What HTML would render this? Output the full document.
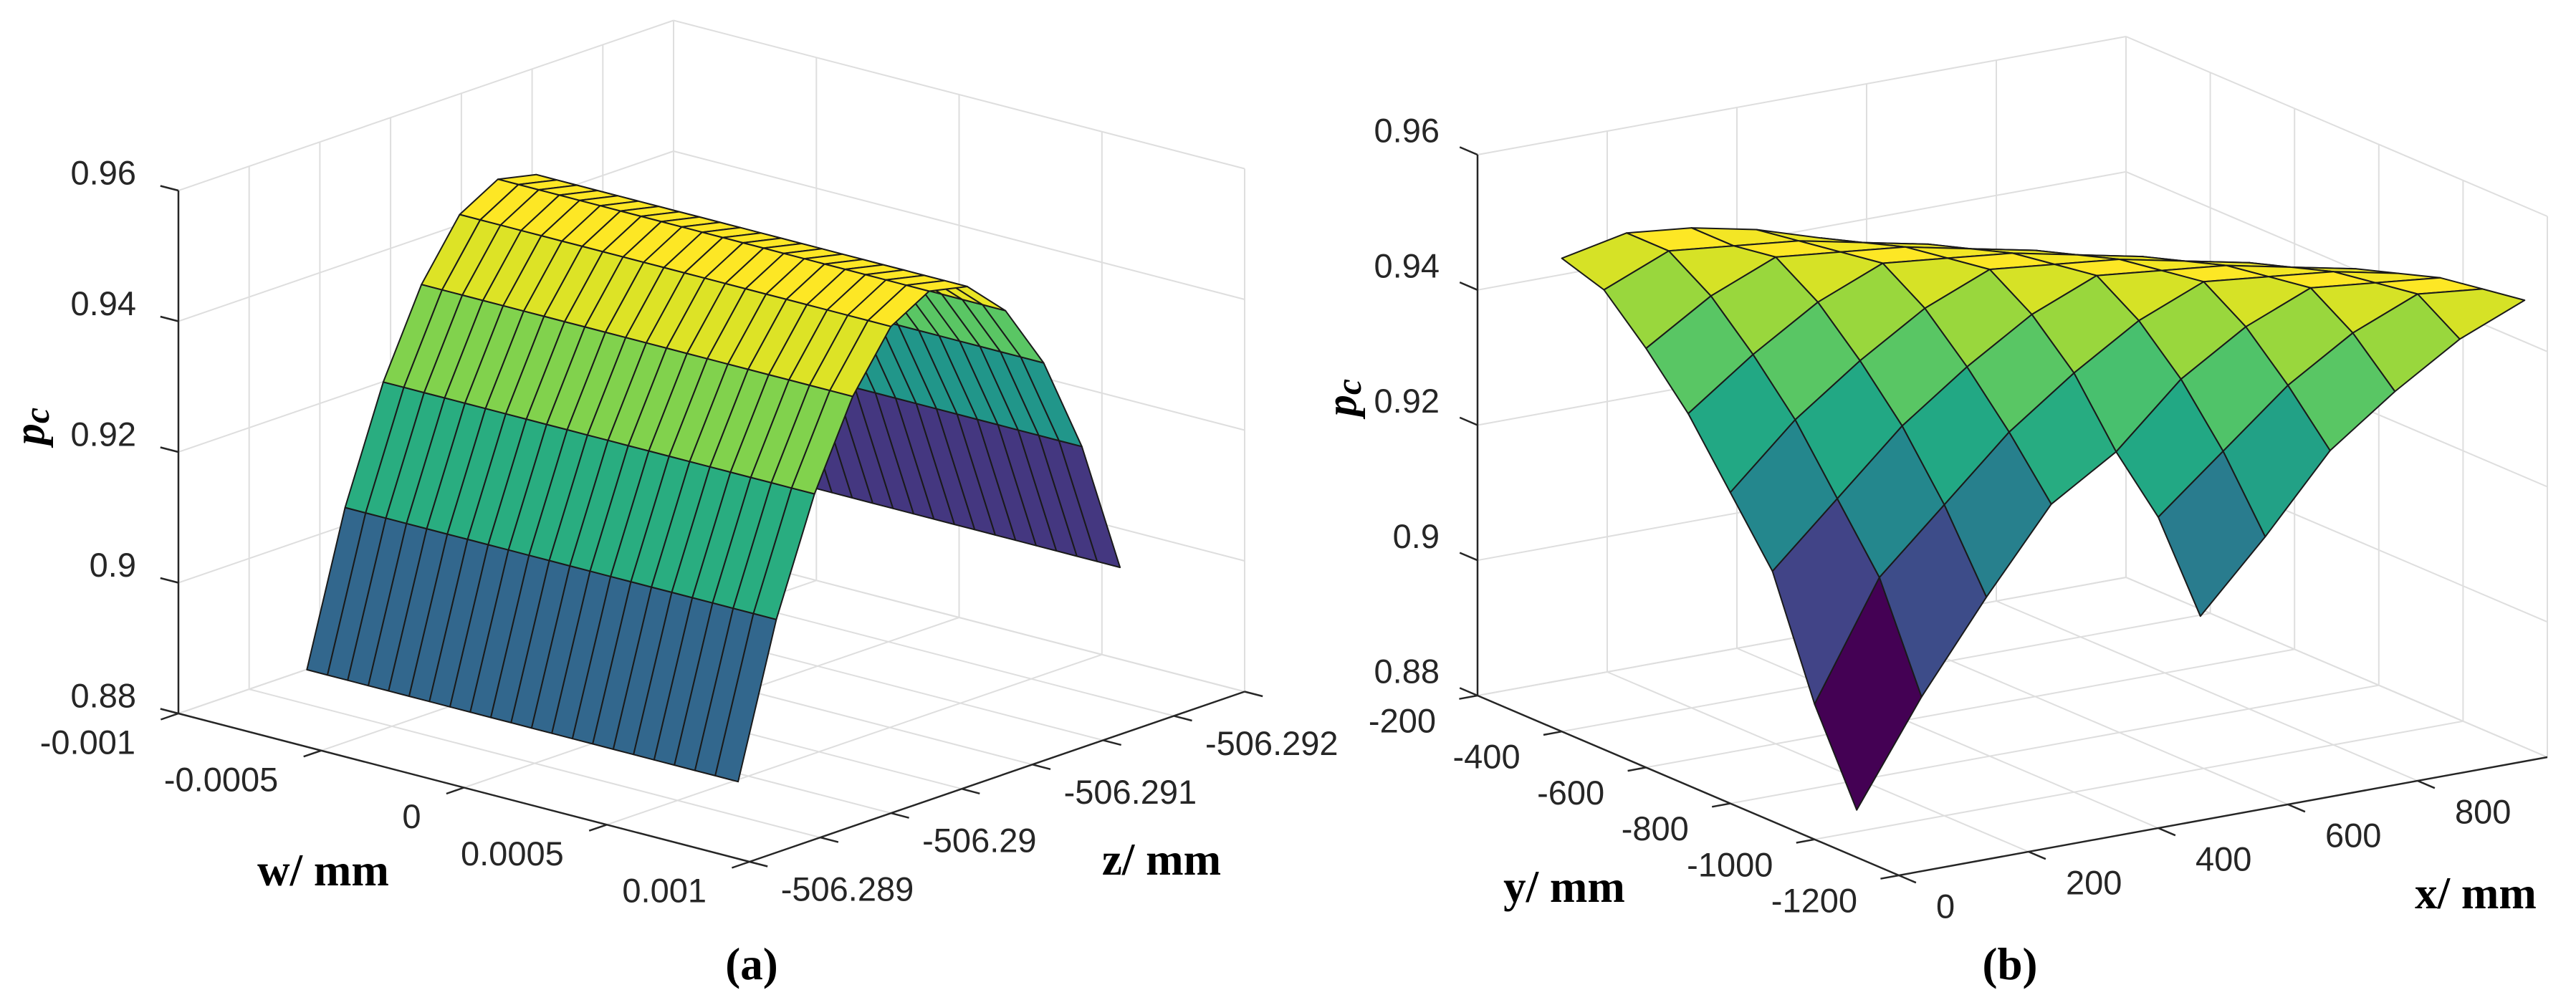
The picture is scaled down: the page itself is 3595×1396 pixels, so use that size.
<!DOCTYPE html>
<html><head><meta charset="utf-8"><style>
html,body{margin:0;padding:0;background:#fff}
svg{display:block}
text{font-family:"Liberation Sans",sans-serif;fill:#262626}
.tt{font-family:"Liberation Serif",serif;font-weight:bold;fill:#000}
</style></head><body>
<svg id="fig" width="3595" height="1396" viewBox="0 0 3595 1396" xmlns="http://www.w3.org/2000/svg">
<g id="chartA"></g>
<g id="chartB"></g>
<text class="tt" x="41" y="595" font-size="60" font-style="italic" text-anchor="middle" dominant-baseline="central" transform="rotate(-90 41 595)">p<tspan font-size="50" dy="10">c</tspan></text>
<text class="tt" x="451" y="1215" font-size="63" text-anchor="middle" dominant-baseline="central">w/ mm</text>
<text class="tt" x="1621" y="1200" font-size="63" text-anchor="middle" dominant-baseline="central">z/ mm</text>
<text class="tt" x="1049" y="1346" font-size="63" text-anchor="middle" dominant-baseline="central">(a)</text>
<text class="tt" x="1872" y="555" font-size="60" font-style="italic" text-anchor="middle" dominant-baseline="central" transform="rotate(-90 1872 555)">p<tspan font-size="50" dy="10">c</tspan></text>
<text class="tt" x="2183" y="1238" font-size="63" text-anchor="middle" dominant-baseline="central">y/ mm</text>
<text class="tt" x="3455" y="1247" font-size="63" text-anchor="middle" dominant-baseline="central">x/ mm</text>
<text class="tt" x="2805" y="1346" font-size="63" text-anchor="middle" dominant-baseline="central">(b)</text>
</svg>
<script>
// ---------- data (a) ----------
const aPTicks=[0.88,0.9,0.92,0.94,0.96];
const aPTickLabels=["0.88","0.9","0.92","0.94","0.96"];
const aWTicks=[-0.001,-0.0005,0,0.0005,0.001];
const aWTickLabels=["-0.001","-0.0005","0","0.0005","0.001"];
const aZTicks=[-506.2885,-506.289,-506.2895,-506.29,-506.2905,-506.291,-506.2915,-506.292];
const aZTickLabels=["","-506.289","","-506.29","","-506.291","","-506.292"];
const aWGrid=[-0.00055,-0.000478,-0.000407,-0.000335,-0.000264,-0.000192,-0.000121,-0.000049,0.000022,0.000094,0.000165,0.000237,0.000308,0.00038,0.000451,0.000523,0.000594,0.000666,0.000737,0.000809,0.00088,0.00096];
const aZGrid=[-506.2885,-506.28877,-506.28904,-506.28931,-506.28958,-506.28985,-506.29012,-506.29039,-506.29066,-506.29093,-506.2912];
const aPRow=[0.8918,0.9146,0.9318,0.9447,0.9534,0.9568,0.9555,0.9498,0.9398,0.925,0.9045];
const aRowColor=[0.33,0.62,0.81,0.95,1,1,0.97,0.74,0.52,0.16];
// ---------- data (b) ----------
const bPTicks=[0.88,0.9,0.92,0.94,0.96];
const bPTickLabels=["0.88","0.9","0.92","0.94","0.96"];
const bXTicks=[0,200,400,600,800];
const bXTickLabels=["0","200","400","600","800"];
const bYTicks=[-200,-400,-600,-800,-1000,-1200];
const bYTickLabels=["-200","-400","-600","-800","-1000","-1200"];
const bXGrid=[0,100,200,300,400,500,600,700,800,900];
const bYGrid=[-400,-500,-600,-700,-800,-900,-1000,-1100,-1200,-1300];
const N=null;
const bP=[
[0.950,0.952,0.951,0.949,0.946,0.943,0.940,0.937,0.934,0.931],
[0.948,0.952,0.951,0.950,0.948,0.946,0.943,0.940,0.937,0.934],
[0.942,0.948,0.952,0.951,0.950,0.948,0.946,0.943,0.940,0.937],
[0.935,0.942,0.948,0.952,0.951,0.950,0.948,0.946,0.943,0.940],
[0.926,0.935,0.942,0.948,0.952,0.951,0.950,0.948,0.946,0.943],
[0.917,0.926,0.935,0.942,0.948,0.952,0.951,0.950,0.948,0.946],
[0.900,0.917,0.926,0.935,0.942,0.948,0.952,0.951,0.950,0.948],
[0.887,0.902,0.915,0.927,0.933,0.942,0.948,0.952,0.951,0.950],
[N,N,N,N,0.926,0.934,0.942,0.948,0.952,0.951],
[N,N,N,N,0.914,0.924,0.935,0.942,0.948,0.952]];

// ---------- helpers ----------
const NS="http://www.w3.org/2000/svg";
const VIR=["#440154","#482475","#414487","#355f8d","#2a788e","#21918c","#22a884","#44bf70","#7ad151","#bddf26","#fde725"];
function hx(c){return [parseInt(c.substr(1,2),16),parseInt(c.substr(3,2),16),parseInt(c.substr(5,2),16)];}
function viridis(t){t=Math.max(0,Math.min(1,t));const f=t*10,i=Math.min(9,Math.floor(f)),r=f-i;const a=hx(VIR[i]),b=hx(VIR[i+1]);return "rgb("+a.map((v,k)=>Math.round(v+(b[k]-v)*r)).join(",")+")";}
function mk(tag,attrs,parent){const e=document.createElementNS(NS,tag);for(const k in attrs)e.setAttribute(k,attrs[k]);parent.appendChild(e);return e;}
function line(g,p,q,stroke,w){return mk("line",{x1:p[0].toFixed(1),y1:p[1].toFixed(1),x2:q[0].toFixed(1),y2:q[1].toFixed(1),stroke:stroke,"stroke-width":w},g);}
function unit(v){const l=Math.hypot(v[0],v[1]);return [v[0]/l,v[1]/l];}
function makeBox(O,e1,e2,H){return function(s1,s2,h){return [O[0]+e1[0]*s1+e2[0]*s2, O[1]+e1[1]*s1+e2[1]*s2-H*h];};}

// ---------- chart A ----------
(function(){
const g=document.getElementById("chartA");
const P=makeBox([249,996],[797,207],[691,-237.5],730);
const uW=w=>(w+0.001)/0.002, vZ=z=>(z+506.2885)/(-0.0035), hP=p=>(p-0.88)/0.08;
const GC="#dedede",AC="#262626";
const grid=mk("g",{},g);


aWTicks.forEach(w=>{const u=uW(w);line(grid,P(u,0,0),P(u,1,0),GC,2);line(grid,P(u,1,0),P(u,1,1),GC,2);});
aZTicks.forEach(z=>{const v=vZ(z);line(grid,P(0,v,0),P(1,v,0),GC,2);line(grid,P(0,v,0),P(0,v,1),GC,2);});
line(grid,P(0,1,0),P(0,1,1),GC,2);
aPTicks.forEach(p=>{const h=hP(p);line(grid,P(0,0,h),P(0,1,h),GC,2);line(grid,P(0,1,h),P(1,1,h),GC,2);});
const ax=mk("g",{},g);


line(ax,P(0,0,0),P(0,0,1),AC,2.5);line(ax,P(0,0,0),P(1,0,0),AC,2.5);line(ax,P(1,0,0),P(1,1,0),AC,2.5);
const dP=unit([-797,-207]),dW=unit([-691,237.5]),dZ=unit([797,207]);
aPTicks.forEach((p,i)=>{const q=P(0,0,hP(p));line(ax,q,[q[0]+dP[0]*26,q[1]+dP[1]*26],AC,2.5);
 const t=mk("text",{x:q[0]-59,y:q[1]-25,"font-size":47,"text-anchor":"end","dominant-baseline":"central"},ax);t.textContent=aPTickLabels[i];
 
 });
aWTicks.forEach((w,i)=>{const q=P(uW(w),0,0);line(ax,q,[q[0]+dW[0]*26,q[1]+dW[1]*26],AC,2.5);
 const t=mk("text",{x:q[0]-60,y:q[1]+40,"font-size":47,"text-anchor":"end","dominant-baseline":"central"},ax);t.textContent=aWTickLabels[i];
 
 });
aZTicks.forEach((z,i)=>{const q=P(1,vZ(z),0);line(ax,q,[q[0]+dZ[0]*26,q[1]+dZ[1]*26],AC,2.5);
 if(aZTickLabels[i]){const t=mk("text",{x:q[0]-55,y:q[1]+72,"font-size":47,"text-anchor":"start","dominant-baseline":"central"},ax);t.textContent=aZTickLabels[i];
 
 }});
const faces=[];
for(let j=0;j<aZGrid.length-1;j++)for(let i=0;i<aWGrid.length-1;i++){
 const c=[[i,j],[i+1,j],[i+1,j+1],[i,j+1]].map(([a,b])=>[uW(aWGrid[a]),vZ(aZGrid[b]),hP(aPRow[b])]);
 const m=c.reduce((s,q)=>[s[0]+q[0]/4,s[1]+q[1]/4,s[2]+q[2]/4],[0,0,0]);
 faces.push({c:c,d:504430*m[0]-581810*m[1]+332325*m[2],col:viridis(aRowColor[j])});}
faces.sort((a,b)=>a.d-b.d);
const sg=mk("g",{},g);


faces.forEach(f=>{const pts=f.c.map(q=>P(q[0],q[1],q[2]).map(v=>v.toFixed(1)).join(",")).join(" ");
 const e=mk("polygon",{points:pts,fill:f.col,stroke:"#1a1a1a","stroke-width":2,"stroke-linejoin":"round"},sg);
 
 });
})();

// ---------- chart B ----------
(function(){
const g=document.getElementById("chartB");
const P=makeBox([2062,971],[588,251],[905,-165],755);
const sY=y=>(y+200)/(-1000), sX=x=>x/1000, hP=p=>(p-0.88)/0.08;
const GC="#dedede",AC="#262626";
const grid=mk("g",{},g);


bXTicks.concat([1000]).forEach(x=>{const s=sX(x);line(grid,P(0,s,0),P(1,s,0),GC,2);line(grid,P(0,s,0),P(0,s,1),GC,2);});
bYTicks.forEach(y=>{const s=sY(y);line(grid,P(s,0,0),P(s,1,0),GC,2);line(grid,P(s,1,0),P(s,1,1),GC,2);});
bPTicks.forEach(p=>{const h=hP(p);line(grid,P(0,0,h),P(0,1,h),GC,2);line(grid,P(0,1,h),P(1,1,h),GC,2);});
const ax=mk("g",{},g);


line(ax,P(0,0,0),P(0,0,1),AC,2.5);line(ax,P(0,0,0),P(1,0,0),AC,2.5);line(ax,P(1,0,0),P(1,1,0),AC,2.5);
const dP=unit([-588,-251]),dY=unit([-905,165]),dX=unit([588,251]);
bPTicks.forEach((p,i)=>{const q=P(0,0,hP(p));line(ax,q,[q[0]+dP[0]*27,q[1]+dP[1]*27],AC,2.5);
 const t=mk("text",{x:q[0]-53,y:q[1]-34,"font-size":47,"text-anchor":"end","dominant-baseline":"central"},ax);t.textContent=bPTickLabels[i];
 
 });
bYTicks.forEach((y,i)=>{const q=P(sY(y),0,0);line(ax,q,[q[0]+dY[0]*26,q[1]+dY[1]*26],AC,2.5);
 const t=mk("text",{x:q[0]-58,y:q[1]+35,"font-size":47,"text-anchor":"end","dominant-baseline":"central"},ax);t.textContent=bYTickLabels[i];
 
 });
bXTicks.forEach((x,i)=>{const q=P(1,sX(x),0);line(ax,q,[q[0]+dX[0]*26,q[1]+dX[1]*26],AC,2.5);
 const t=mk("text",{x:q[0]+52,y:q[1]+43,"font-size":47,"text-anchor":"start","dominant-baseline":"central"},ax);t.textContent=bXTickLabels[i];
 
 });
let mn=Infinity,mx=-Infinity;bP.forEach(r=>r.forEach(v=>{if(v!==null){mn=Math.min(mn,v);mx=Math.max(mx,v);}}));
const faces=[];
for(let j=0;j<bYGrid.length-1;j++)for(let i=0;i<bXGrid.length-1;i++){
 const idx=[[i,j],[i+1,j],[i+1,j+1],[i,j+1]];
 if(idx.some(([a,b])=>bP[b][a]===null))continue;
 const c=idx.map(([a,b])=>[sY(bYGrid[b]),sX(bXGrid[a]),hP(bP[b][a])]);
 const cv=bP[j+1][i];
 const m=c.reduce((s,q)=>[s[0]+q[0]/4,s[1]+q[1]/4,s[2]+q[2]/4],[0,0,0]);
 faces.push({c:c,d:682370*m[0]-443352*m[1]+324175*m[2],col:viridis((cv-mn)/(mx-mn))});}
faces.sort((a,b)=>a.d-b.d);
const sg=mk("g",{},g);


faces.forEach(f=>{const pts=f.c.map(q=>P(q[0],q[1],q[2]).map(v=>v.toFixed(1)).join(",")).join(" ");
 const e=mk("polygon",{points:pts,fill:f.col,stroke:"#1a1a1a","stroke-width":2,"stroke-linejoin":"round"},sg);
 
 });
})();
</script>
</body></html>
